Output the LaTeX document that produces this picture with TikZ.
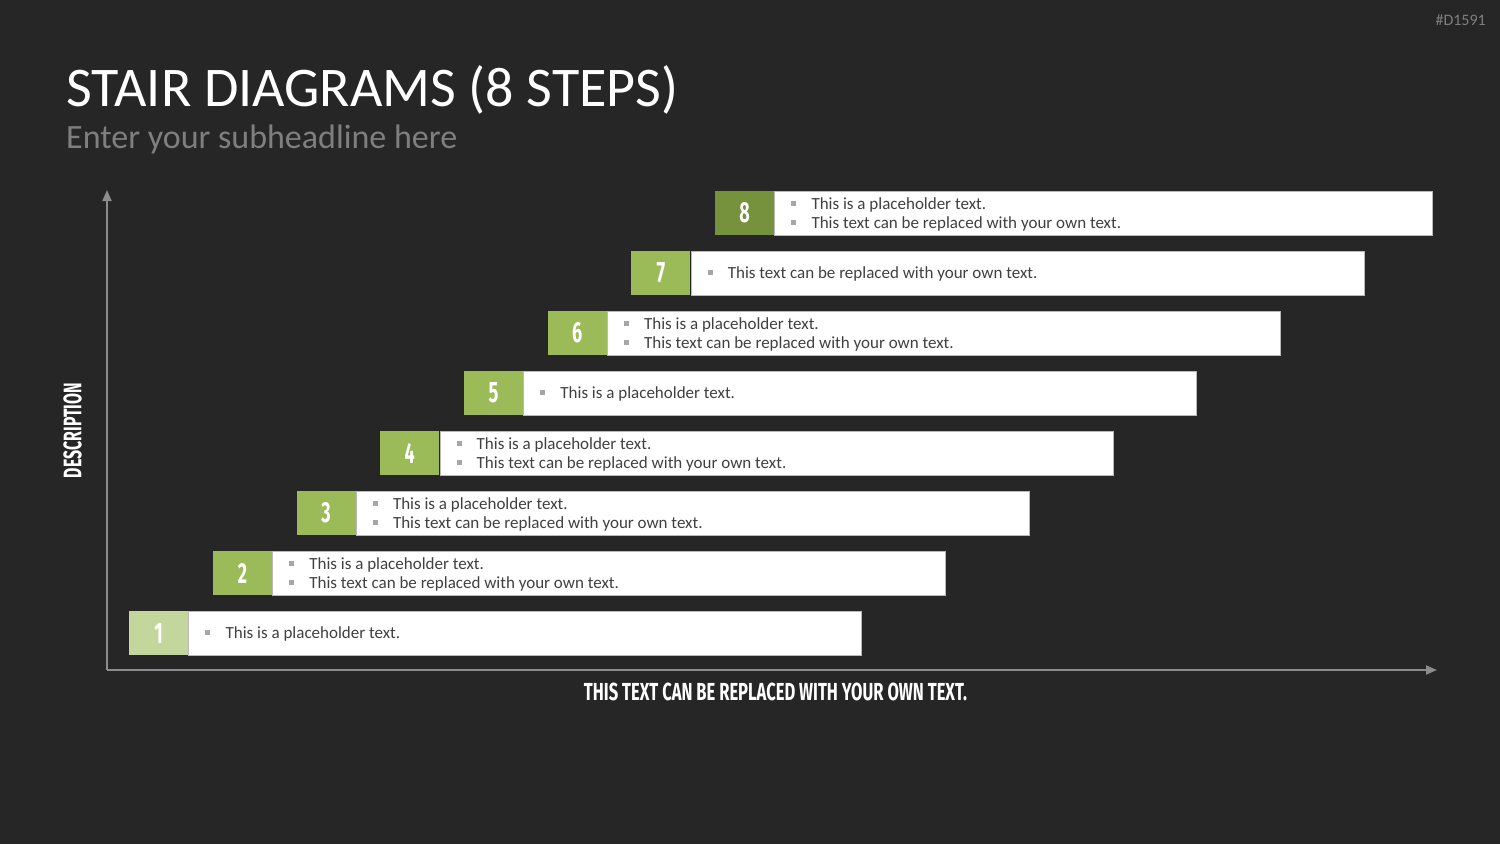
\documentclass[tikz,border=0pt]{standalone}
\usepackage{fontspec}
\usepackage{graphicx}
\setmainfont{Carlito}
\newfontfamily\condfont{Fira Sans}
\usetikzlibrary{arrows.meta}
\definecolor{bg}{HTML}{262626}
\definecolor{gone}{HTML}{C3D69B}
\definecolor{gmid}{HTML}{9BBB59}
\definecolor{gdark}{HTML}{76923C}
\definecolor{axisc}{HTML}{8C8C8C}
\definecolor{txt}{HTML}{404040}
\definecolor{bul}{HTML}{A6A6A6}
\definecolor{subc}{HTML}{7F7F7F}
\newcommand{\cond}[1]{\scalebox{0.62}[1]{\condfont\bfseries #1}}
\newcommand{\numtxt}[1]{\resizebox{!}{20pt}{\cond{#1}}}
\tikzset{
  numbox/.style={anchor=north west, minimum width=59pt, minimum height=44pt, inner sep=0pt, text=white},
  whitebox/.style={anchor=north west, fill=white, draw=gray!55, line width=0.8pt, minimum height=44pt, inner sep=0pt},
  bodytext/.style={anchor=mid west, inner sep=0pt, text=txt, font=\fontsize{17}{20}\selectfont},
  bulletbox/.style={fill=bul, minimum size=5pt, inner sep=0pt},
  axisline/.style={draw=axisc, line width=2pt, -{Triangle[length=11pt,width=9pt]}},
}
\begin{document}
\begin{tikzpicture}[x=1pt,y=-1pt]
\fill[bg] (0,0) rectangle (1500,844);
\useasboundingbox (0,0) rectangle (1500,844);
\node[anchor=east, inner sep=0pt, text=subc, font=\fontsize{16}{18}\selectfont] (code) at (1486,20.5) {\#D1591};
\node[anchor=base west, inner sep=0pt, text=white, font=\fontsize{56}{66}\selectfont] (title) at (66,106) {STAIR DIAGRAMS (8 STEPS)};
\node[anchor=base west, inner sep=0pt, text=subc, font=\fontsize{34}{40}\selectfont] (subtitle) at (66,148) {Enter your subheadline here};
% axes
\coordinate (origin) at (107,670);
\coordinate (ytop) at (107,190);
\coordinate (xend) at (1437,670);
\draw[axisline] (origin) -- (ytop);
\draw[axisline] (origin) -- (xend);
\node[rotate=90, inner sep=0pt, text=white] (ylabel) at (72.5,430.5) {\resizebox{95pt}{18pt}{\cond{DESCRIPTION}}};
\node[inner sep=0pt, text=white] (xlabel) at (775.5,691.5) {\resizebox{383pt}{17.5pt}{\cond{THIS TEXT CAN BE REPLACED WITH YOUR OWN TEXT.}}};
% steps
\foreach \k/\col/\w in {1/gone/673,2/gmid/673,3/gmid/673,4/gmid/673,5/gmid/673,6/gmid/673,7/gmid/673,8/gdark/658}{
  \pgfmathsetmacro{\xx}{129+83.7*(\k-1)}
  \pgfmathsetmacro{\yy}{611-60*(\k-1)}
  \node[numbox, fill=\col] (num\k) at (\xx,\yy) {\numtxt{\k}};
  \node[whitebox, minimum width=\w pt] (box\k) at (num\k.north east) {};
}
% texts
\foreach \k in {1,5}{
  \node[bulletbox] (b\k a) at ([xshift=19.5pt,yshift=0.5pt]box\k.west) {};
  \node[bodytext] (t\k a) at ([xshift=37pt,yshift=-2.5pt]box\k.west) {This is a placeholder text.};
}
\foreach \k in {7}{
  \node[bulletbox] (b\k a) at ([xshift=19.5pt,yshift=0.5pt]box\k.west) {};
  \node[bodytext] (t\k a) at ([xshift=37pt,yshift=-2.5pt]box\k.west) {This text can be replaced with your own text.};
}
\foreach \k in {2,3,4,6,8}{
  \node[bulletbox] (b\k a) at ([xshift=19.5pt,yshift=9.5pt]box\k.west) {};
  \node[bodytext] (t\k a) at ([xshift=37pt,yshift=6.5pt]box\k.west) {This is a placeholder text.};
  \node[bulletbox] (b\k b) at ([xshift=19.5pt,yshift=-9.5pt]box\k.west) {};
  \node[bodytext] (t\k b) at ([xshift=37pt,yshift=-12.5pt]box\k.west) {This text can be replaced with your own text.};
}
\end{tikzpicture}
\end{document}
